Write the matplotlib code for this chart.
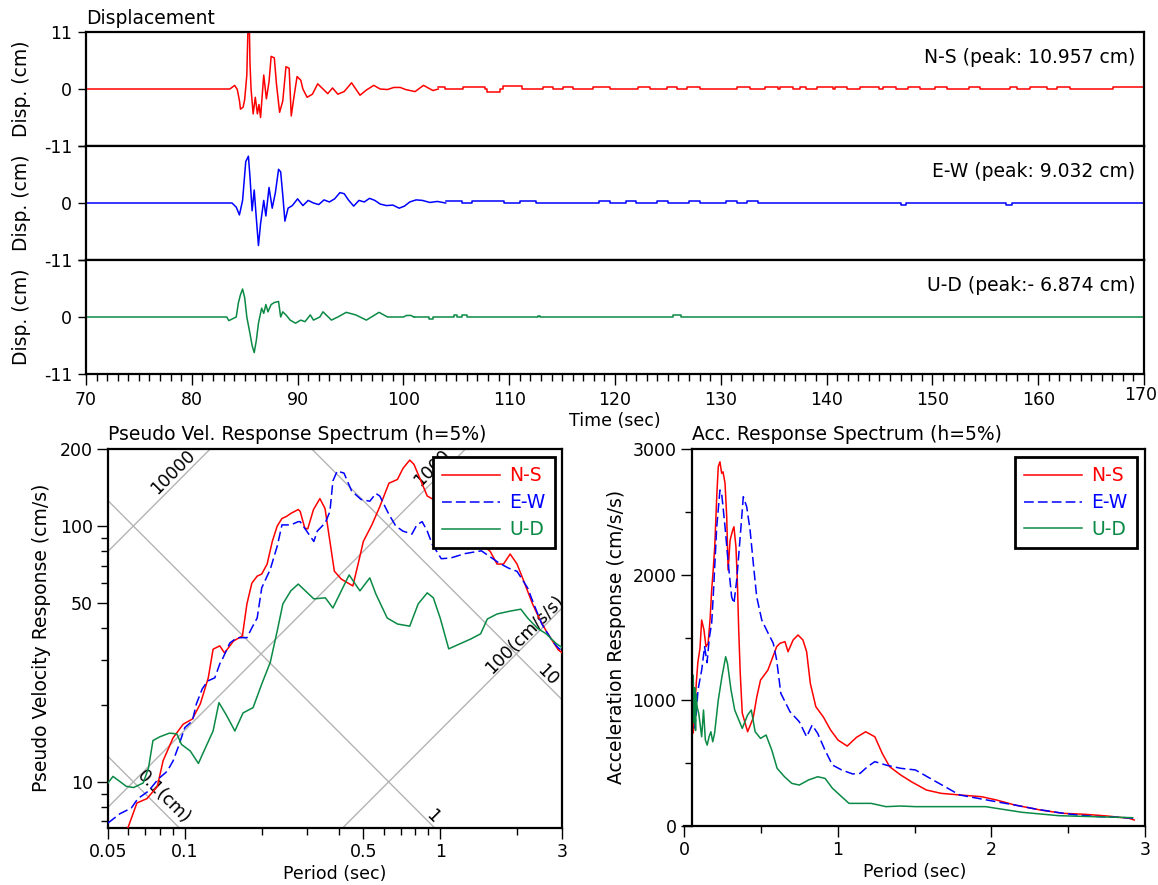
import numpy as np
import matplotlib
matplotlib.use("Agg")
import matplotlib.pyplot as plt
from matplotlib.ticker import (MultipleLocator, FixedLocator, FixedFormatter,
                               NullFormatter, NullLocator, FuncFormatter)

plt.rcParams["font.family"] = ["DejaVu Sans"]
plt.rcParams["font.size"] = 12
plt.rcParams["xtick.labelsize"] = 12.5
plt.rcParams["ytick.labelsize"] = 12.5
plt.rcParams["lines.scale_dashes"] = False

W, H = 1158, 885
RED, BLUE, GREEN = "#ff0000", "#0000ff", "#0a8a45"
BIG = 13.5

# ---------------- displacement time histories (cm) ----------------
ns_t = [70, 83.6, 84.05, 84.3, 84.5, 84.6, 84.85, 85.0, 85.2, 85.3, 85.45, 85.5, 85.6, 85.8,
        86.0, 86.2, 86.35, 86.5, 86.8, 87.05, 87.3, 87.5, 87.8, 88.0, 88.3, 88.6, 88.9, 89.2,
        89.4, 89.65, 89.95, 90.3, 90.5, 90.9, 91.4, 91.9, 92.4, 92.85, 93.3, 93.8, 94.4, 95.1,
        95.9, 96.5, 97.2, 97.8, 98.5, 99.1, 99.7, 100.2, 101.1, 101.9, 102.8, 103.3]
ns_d = [0, 0, 0.7, -0.1, -2.2, -3.9, -3.5, -2.0, 2.7, 10.957, 10.9, 5.0, 0.0, -4.8,
        -1.6, -4.8, -3.0, -5.5, 2.7, -1.9, 1.4, 6.3, 6.0, 1.0, -4.5, -2.3, 4.3, 4.0,
        -5.2, -1.6, 2.4, 1.7, 0.0, -1.6, -1.0, 1.0, 0.0, -0.9, 0.2, -1.0, -0.5, 1.2,
        -1.2, -0.2, 0.7, 0.0, -0.1, 0.3, 0.3, -0.1, -0.5, 0.7, -0.3, 0]
ns_tail_t = [103.3, 103.9, 105.6, 107.7, 107.9, 109.1, 109.4, 111.2, 113.2, 114.1, 115.1, 116.0,
             117.9, 119.5, 122.2, 123.3, 124.9, 125.9, 126.8, 128.0, 131.5, 132.8, 134.2, 135.4,
             135.6, 136.8, 137.5, 138.1, 139.1, 140.6, 140.8, 141.9, 143.2, 145.0, 145.3, 146.6,
             147.7, 148.8, 150.2, 151.4, 153.5, 154.5, 157.3, 158.0, 159.2, 160.8, 161.8, 163.0,
             167.1, 170]
ns_tail_d = [0.3, 0, 0.3, 0, -0.5, 0, 0.6, 0, 0.3, 0, 0.3, 0,
             0.3, 0, 0.3, 0, 0.3, 0, 0.3, 0, 0.3, 0, 0.3, 0,
             0.3, 0, 0.3, 0, 0.3, 0, 0.3, 0, 0.3, 0, 0.3, 0,
             0.3, 0, 0.3, 0, 0.3, 0, 0.3, 0, 0.3, 0, 0.3, 0,
             0.3, 0.3]

ew_t = [70, 83.8, 84.2, 84.5, 84.8, 85.1, 85.35, 85.5, 85.7, 85.9, 86.1, 86.3, 86.5, 86.8,
        87.0, 87.3, 87.6, 87.9, 88.2, 88.4, 88.6, 88.8, 89.1, 89.5, 90.0, 90.5, 91.0, 91.5,
        92.0, 92.5, 93.0, 93.5, 94.0, 94.4, 94.8, 95.3, 95.8, 96.3, 96.8, 97.3, 97.8, 98.4,
        99.0, 99.6, 100.1, 100.6, 101.2, 101.8, 102.5, 103.2, 104]
ew_d = [0, 0, -0.8, -2.3, 0.5, 8.0, 9.032, 5.0, -1.5, 2.5, -3.0, -8.2, -4.0, 0.5,
        -2.5, 3.0, -1.0, 2.0, 6.5, 6.0, 1.5, -3.5, -1.0, -0.5, 0.8, -0.5, 0.5, 0.0,
        -0.3, 0.6, 0.2, 0.8, 2.0, 1.8, 0.6, -0.6, 0.5, 0.2, 0.9, 0.5, -0.2, -0.5,
        -0.4, -1.0, -0.6, 0.2, 0.6, 0.5, 0.1, 0.3, 0]
ew_tail_t = [104, 105.5, 106.5, 109.5, 111, 112.5, 118.5, 119.5, 121, 122, 124, 125,
             127, 128, 130.5, 131.5, 132.5, 133.5, 147, 147.5, 157, 157.5, 170]
ew_tail_d = [0.3, 0, 0.3, 0, 0.3, 0, 0.3, 0, 0.3, 0, 0.3, 0,
             0.3, 0, 0.3, 0, 0.3, 0, -0.3, 0, -0.3, 0, 0]

ud_t = [70, 83.3, 83.5, 83.9, 84.2, 84.4, 84.6, 84.8, 85.0, 85.2, 85.5, 85.7, 85.9, 86.1,
        86.3, 86.6, 86.8, 87.0, 87.2, 87.5, 87.8, 88.2, 88.4, 88.6, 88.9, 89.3, 89.8, 90.3,
        90.7, 91.2, 91.5, 92.1, 92.4, 93.2, 93.8, 94.6, 95.5, 96.5, 97.7, 98.5, 99.3, 100.0,
        100.3, 100.7, 101.0]
ud_d = [0, 0, -0.7, -0.3, 0.0, 2.7, 4.3, 5.4, 3.7, 0.0, -3.2, -5.5, -6.874, -4.5,
        -1.2, 1.7, 0.7, 2.4, 1.0, 2.4, 2.8, 3.0, 0.0, 1.0, 0.4, -0.6, -1.2, -0.6,
        -0.9, 0.4, -0.6, 0.0, 1.0, -0.6, 0.0, 0.9, 0.4, -0.6, 0.9, 0.0, 0.0, 0.0,
        0.3, 0.3, 0]
ud_tail_t = [101.0, 102.4, 102.8, 104.8, 105.1, 105.5, 106.0, 112.7, 112.9, 125.5, 126.2, 170]
ud_tail_d = [0, -0.3, 0, 0.3, 0, 0.3, 0, 0.2, 0, 0.3, 0, 0]

peak_labels = ["N-S (peak: 10.957 cm)", "E-W (peak: 9.032 cm)", "U-D (peak:- 6.874 cm)"]

# ---------------- pseudo velocity response spectra (cm/s) ----------------
ns_psv_T = [0.0598, 0.0649, 0.0711, 0.078, 0.0822, 0.0899, 0.0985, 0.107, 0.115, 0.1235, 0.129,
            0.137, 0.143, 0.155, 0.168, 0.175, 0.183, 0.192, 0.200, 0.210, 0.220, 0.230, 0.240,
            0.250, 0.260, 0.278, 0.283, 0.295, 0.303, 0.319, 0.338, 0.354, 0.370, 0.385, 0.410,
            0.455, 0.477, 0.500, 0.540, 0.580, 0.630, 0.680, 0.715, 0.760, 0.790, 0.850, 0.890,
            0.940, 1.00, 1.15, 1.30, 1.45, 1.57, 1.67, 1.77, 1.88, 2.00, 2.10, 2.30, 2.45, 2.60,
            2.90, 3.00]
ns_psv = [6.6, 8.27, 8.6, 9.6, 12.1, 14.85, 16.8, 17.6, 20.2, 25.5, 33.0,
          34.0, 31.9, 35.5, 37.2, 49.6, 59.8, 63.7, 64.9, 71, 87, 100, 107,
          109, 112, 116, 114, 98, 97.5, 116, 128, 117, 87, 66.6, 62,
          58.3, 71, 87, 101, 119, 147, 152, 168, 181, 174, 146, 131,
          127, 120, 105, 95, 85, 79.6, 71, 71, 77.7, 71, 62.8, 49.6, 43.3, 38.9,
          32.8, 32]

ew_psv_T = [0.05, 0.0556, 0.0617, 0.0655, 0.072, 0.079, 0.0853, 0.09, 0.094, 0.1, 0.107, 0.111,
            0.117, 0.123, 0.131, 0.137, 0.141, 0.15, 0.16, 0.175, 0.183, 0.192, 0.20, 0.216,
            0.23, 0.24, 0.26, 0.278, 0.283, 0.30, 0.32, 0.33, 0.355, 0.37, 0.38, 0.395, 0.42,
            0.45, 0.49, 0.53, 0.56, 0.58, 0.63, 0.67, 0.715, 0.775, 0.81, 0.85, 0.89, 0.93,
            1.01, 1.1, 1.25, 1.45, 1.7, 1.85, 2.0, 2.2, 2.3, 2.5, 2.75, 2.9, 3.0]
ew_psv = [6.9, 7.5, 7.9, 8.6, 9.2, 10.3, 11.0, 12.1, 13.6, 16.3, 17.3, 20.2,
          23.1, 24.8, 25.5, 28.9, 30.5, 34.9, 36.6, 36.6, 40, 43.7, 57.3, 67.7,
          83.4, 101, 101, 104, 104, 95.5, 87, 95.5, 103, 114, 150, 164, 161,
          137, 127, 125, 134, 131, 111, 100, 95.5, 93, 101, 104, 95.5, 85,
          74.5, 75, 78, 80, 71.7, 68.5, 66.5, 57.3, 51, 41.4, 35.5, 33.4, 32.5]

ud_psv_T = [0.05, 0.0523, 0.059, 0.063, 0.0687, 0.072, 0.075, 0.0798, 0.087, 0.093, 0.097, 0.105,
            0.113, 0.118, 0.129, 0.136, 0.146, 0.157, 0.169, 0.185, 0.20, 0.216, 0.23, 0.242,
            0.26, 0.278, 0.283, 0.32, 0.355, 0.38, 0.41, 0.44, 0.465, 0.485, 0.53, 0.56, 0.62,
            0.68, 0.76, 0.82, 0.89, 0.94, 1.0, 1.08, 1.2, 1.32, 1.44, 1.53, 1.67, 1.88, 2.07,
            2.2, 2.4, 2.6, 2.85, 3.0]
ud_psv = [9.9, 10.5, 9.6, 9.5, 9.9, 11.3, 14.5, 15.0, 15.5, 15.4, 14.0, 13.2,
          11.8, 13.0, 15.8, 20.4, 18.1, 15.8, 18.6, 19.5, 24.1, 29.3, 38.9, 49.6,
          55.8, 59.3, 58.3, 51.9, 52.4, 47.8, 55.8, 64.4, 59.3, 55.8, 62.7, 54.2, 43.7,
          41.4, 40.6, 49.6, 54.8, 52.4, 43.7, 33.1, 34.7, 36.2, 37.9, 43.3, 45.3, 46.5, 47.3,
          43.7, 39.9, 37.9, 34.7, 33.5]

# tripartite grid: constant displacement (cm) and constant acceleration (cm/s/s)
sd_lines = [0.1, 1, 10]
sa_lines = [100, 1000, 10000]

# ---------------- acceleration response spectra (cm/s/s) ----------------
ns_acc_T = [0.05, 0.055, 0.06, 0.07, 0.08, 0.09, 0.104, 0.115, 0.13, 0.143, 0.157, 0.17, 0.18,
            0.19, 0.2, 0.213, 0.223, 0.234, 0.245, 0.254, 0.267, 0.278, 0.287, 0.3, 0.317,
            0.325, 0.338, 0.347, 0.356, 0.366, 0.379, 0.414, 0.45, 0.474, 0.498, 0.546, 0.603,
            0.625, 0.657, 0.677, 0.71, 0.742, 0.774, 0.798, 0.822, 0.858, 0.906, 0.954, 1.002,
            1.062, 1.122, 1.182, 1.242, 1.29, 1.338, 1.41, 1.48, 1.578, 1.673, 1.793, 1.937,
            2.033, 2.153, 2.32, 2.465, 2.61, 2.75, 2.897, 2.93]
ns_acc = [764, 870, 740, 923, 1138, 1300, 1414, 1639, 1560, 1427, 1454, 1650, 1877,
          2036, 2222, 2620, 2859, 2898, 2807, 2818, 2727, 2461, 2036, 2275, 2355,
          2381, 2222, 1957, 1560, 1217, 899, 750, 859, 1029, 1161, 1241, 1427,
          1454, 1467, 1387, 1480, 1520, 1480, 1387, 1135, 949, 869, 764, 684,
          636, 705, 750, 710, 578, 472, 406, 352, 286, 260, 247, 233,
          207, 167, 127, 101, 93, 80, 61, 48]

ew_acc_T = [0.05, 0.06, 0.07, 0.08, 0.091, 0.115, 0.134, 0.15, 0.165, 0.18, 0.19, 0.213, 0.234,
            0.245, 0.256, 0.267, 0.288, 0.31, 0.325, 0.343, 0.364, 0.386, 0.408, 0.43, 0.451,
            0.473, 0.506, 0.548, 0.581, 0.603, 0.63, 0.69, 0.75, 0.798, 0.834, 0.87, 0.917,
            0.966, 1.026, 1.098, 1.146, 1.194, 1.242, 1.314, 1.41, 1.506, 1.602, 1.698, 1.793,
            1.913, 2.033, 2.153, 2.297, 2.441, 2.561, 2.705, 2.85, 2.95]
ew_acc = [800, 850, 780, 900, 1082, 1241, 1427, 1300, 1500, 1613, 1824, 2381, 2673,
          2647, 2514, 2381, 2090, 1824, 1771, 1957, 2275, 2620, 2540, 2355, 2090,
          1824, 1639, 1533, 1454, 1321, 1056, 909, 830, 710, 803, 737, 605,
          485, 446, 414, 419, 472, 512, 485, 459, 446, 379, 313, 247,
          220, 193, 167, 133, 106, 87, 74, 68, 60]

ud_acc_T = [0.05, 0.055, 0.06, 0.065, 0.07, 0.075, 0.08, 0.085, 0.096, 0.115, 0.127, 0.139,
            0.151, 0.163, 0.175, 0.187, 0.199, 0.223, 0.247, 0.271, 0.283, 0.306, 0.33, 0.379,
            0.414, 0.438, 0.463, 0.498, 0.534, 0.571, 0.606, 0.654, 0.702, 0.75, 0.81, 0.87,
            0.918, 0.966, 1.026, 1.074, 1.218, 1.314, 1.41, 1.506, 1.722, 1.962, 2.2, 2.44,
            2.68, 2.92]
ud_acc = [1150, 900, 1200, 820, 1100, 760, 1050, 950, 896, 710, 923, 684,
          644, 710, 750, 670, 737, 1002, 1188, 1347, 1294, 1082, 923, 777,
          883, 923, 750, 697, 724, 605, 459, 392, 339, 326, 366, 392,
          379, 300, 233, 180, 180, 154, 159, 154, 154, 154, 109, 82,
          74, 66]

components = ["N-S", "E-W", "U-D"]
colors = [RED, BLUE, GREEN]
styles = ["-", (0, (7, 3)), "-"]


def box(x0, y0, x1, y1):
    return [x0 / W, 1 - y1 / H, (x1 - x0) / W, (y1 - y0) / H]


fig = plt.figure(figsize=(W / 100, H / 100), dpi=100)
LW = 1.1
SPW = 1.6

# ---------------- top: three displacement panels ----------------
rows = [(32, 146), (146, 260), (260, 374)]
traces = [(ns_t, ns_d, ns_tail_t, ns_tail_d),
          (ew_t, ew_d, ew_tail_t, ew_tail_d),
          (ud_t, ud_d, ud_tail_t, ud_tail_d)]
for i, ((y0, y1), (t, d, tt, td)) in enumerate(zip(rows, traces)):
    ax = fig.add_axes(box(86, y0, 1144, y1))
    ax.plot(t, d, color=colors[i], lw=LW)
    ax.plot(tt, td, color=colors[i], lw=LW, drawstyle="steps-post")
    ax.set_xlim(70, 170)
    ax.set_ylim(-11, 11)
    ax.set_yticks([-11, 0, 11])
    ax.set_yticklabels(["-11", "0", "11" if i == 0 else ""])
    ax.tick_params(axis="y", direction="out", length=6, width=1, pad=4)
    for s in ax.spines.values():
        s.set_linewidth(SPW)
    if i < 2:
        ax.xaxis.set_major_locator(NullLocator())
    else:
        ax.xaxis.set_major_locator(MultipleLocator(10))
        ax.xaxis.set_minor_locator(MultipleLocator(1))
        # the last label sits flush with the figure edge and is drawn separately
        ax.xaxis.set_major_formatter(FuncFormatter(
            lambda v, p: "" if v >= 169.5 else f"{v:.0f}"))
        ax.tick_params(axis="x", which="major", direction="out", length=8, width=1, pad=4)
        ax.tick_params(axis="x", which="minor", direction="out", length=5, width=1)
        fig.text(1157 / W, 1 - 386 / H, "170", ha="right", va="top", fontsize=12.5)
    ax.text(0.992, 0.78, peak_labels[i], transform=ax.transAxes, ha="right", va="center",
            fontsize=BIG)
    fig.text(22 / W, 1 - (y0 + y1) / 2 / H, "Disp. (cm)", rotation=90,
             ha="center", va="center", fontsize=BIG)

fig.text(86 / W, 1 - 19 / H, "Displacement", ha="left", va="center", fontsize=BIG)
fig.text(615 / W, 1 - 421 / H, "Time (sec)", ha="center", va="center", fontsize=12.5)

# ---------------- bottom left: tripartite pseudo velocity spectrum ----------------
axv = fig.add_axes(box(108, 449, 562, 828))
axv.set_xscale("log")
axv.set_yscale("log")
axv.set_xlim(0.05, 3)
axv.set_ylim(6.6, 200)
Tl = np.array(axv.get_xlim())
for sd in sd_lines:
    axv.plot(Tl, 2 * np.pi * sd / Tl, color="#b4b4b4", lw=1.0, zorder=1)
for sa in sa_lines:
    axv.plot(Tl, sa * Tl / (2 * np.pi), color="#b4b4b4", lw=1.0, zorder=1)

grid_labels = [("10000", 0.09, 162, 45), ("1000", 0.93, 168, 45),
               ("100(cm/s/s)", 2.15, 37.5, 45), ("10", 2.62, 26.0, -45),
               ("1", 0.93, 7.3, -45), ("0.1(cm)", 0.083, 8.7, -45)]
for txt, tx, ty, rot in grid_labels:
    axv.text(tx, ty, txt, rotation=rot, ha="center", va="center",
             rotation_mode="anchor", zorder=2, fontsize=12.5)

for T, v, c, ls, lab in zip([ns_psv_T, ew_psv_T, ud_psv_T], [ns_psv, ew_psv, ud_psv],
                            colors, styles, components):
    axv.plot(T, v, color=c, ls=ls, lw=LW, label=lab, zorder=3)

axv.xaxis.set_major_locator(FixedLocator([0.05, 0.1, 0.5, 1, 3]))
axv.xaxis.set_major_formatter(FixedFormatter(["0.05", "0.1", "0.5", "1", "3"]))
axv.xaxis.set_minor_locator(FixedLocator([0.06, 0.07, 0.08, 0.09, 0.2, 0.3, 0.4, 0.6, 0.7,
                                          0.8, 0.9, 2]))
axv.xaxis.set_minor_formatter(NullFormatter())
axv.yaxis.set_major_locator(FixedLocator([10, 50, 100, 200]))
axv.yaxis.set_major_formatter(FixedFormatter(["10", "50", "100", "200"]))
axv.yaxis.set_minor_locator(FixedLocator([7, 8, 9, 20, 30, 40, 60, 70, 80, 90]))
axv.yaxis.set_minor_formatter(NullFormatter())
axv.tick_params(which="major", direction="out", length=8, width=1, pad=3)
axv.tick_params(which="minor", direction="out", length=5, width=1)
for s in axv.spines.values():
    s.set_linewidth(SPW)
leg_kw = dict(loc="upper right", frameon=True, fancybox=False, edgecolor="black",
              framealpha=1, handlelength=3.1, labelcolor="linecolor", borderpad=0.5,
              labelspacing=0.42, handletextpad=0.5, borderaxespad=0, fontsize=BIG)
leg = axv.legend(bbox_to_anchor=(0.985, 0.979), **leg_kw)
leg.get_frame().set_linewidth(2)
leg.set_zorder(5)
axv.text(0, 1.012, "Pseudo Vel. Response Spectrum (h=5%)", transform=axv.transAxes,
         ha="left", va="bottom", fontsize=BIG)
axv.set_xlabel("Period (sec)", labelpad=3, fontsize=12.5)
fig.text(42 / W, 1 - 638 / H, "Pseudo Velocity Response (cm/s)", rotation=90,
         ha="center", va="center", fontsize=BIG)

# ---------------- bottom right: acceleration response spectrum ----------------
axa = fig.add_axes(box(684, 449, 1145, 826))
for T, a, c, ls, lab in zip([ns_acc_T, ew_acc_T, ud_acc_T], [ns_acc, ew_acc, ud_acc],
                            colors, styles, components):
    axa.plot(T, a, color=c, ls=ls, lw=LW, label=lab)
axa.set_xlim(0, 3)
axa.set_ylim(0, 3000)
axa.spines["left"].set_position(("data", 0.05))
axa.spines["top"].set_bounds(0.05, 3)
axa.xaxis.set_major_locator(MultipleLocator(1))
axa.xaxis.set_minor_locator(MultipleLocator(0.5))
axa.yaxis.set_major_locator(MultipleLocator(1000))
axa.yaxis.set_minor_locator(MultipleLocator(500))
axa.tick_params(which="major", direction="out", length=8, width=1, pad=3)
axa.tick_params(which="minor", direction="out", length=5, width=1)
for s in axa.spines.values():
    s.set_linewidth(SPW)
leg2 = axa.legend(bbox_to_anchor=(0.983, 0.979), **leg_kw)
leg2.get_frame().set_linewidth(2)
axa.text(0.0167, 1.012, "Acc. Response Spectrum (h=5%)", transform=axa.transAxes,
         ha="left", va="bottom", fontsize=BIG)
axa.set_xlabel("Period (sec)", labelpad=3, fontsize=12.5)
fig.text(617 / W, 1 - 637 / H, "Acceleration Response (cm/s/s)", rotation=90,
         ha="center", va="center", fontsize=BIG)

fig.savefig("out.png", dpi=100)
